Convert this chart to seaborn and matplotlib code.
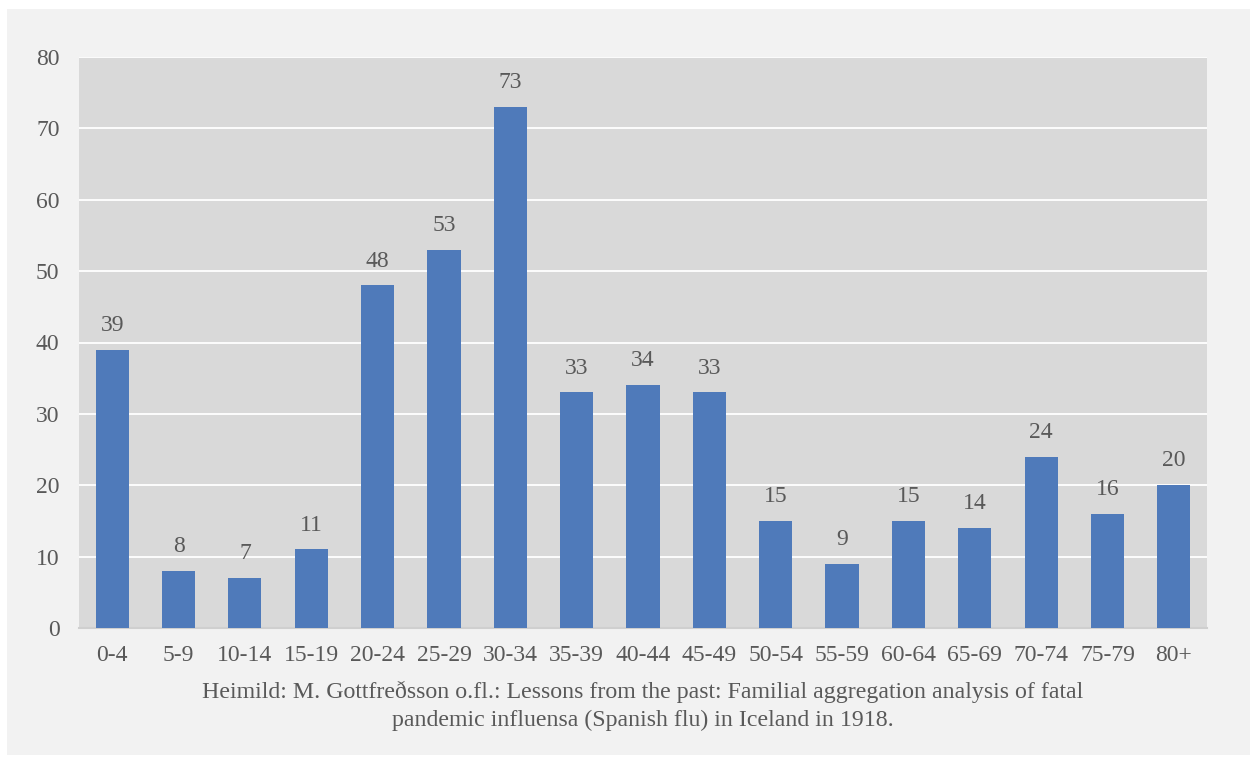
import matplotlib
matplotlib.use("Agg")
import matplotlib.pyplot as plt
import matplotlib.patches as mpatches
import seaborn as sns
import pandas as pd

age_groups = ["0-4", "5-9", "10-14", "15-19", "20-24", "25-29", "30-34", "35-39",
              "40-44", "45-49", "50-54", "55-59", "60-64", "65-69", "70-74", "75-79", "80+"]
deaths = [39, 8, 7, 11, 48, 53, 73, 33, 34, 33, 15, 9, 15, 14, 24, 16, 20]
y_ticks = [0, 10, 20, 30, 40, 50, 60, 70, 80]
caption = ("Heimild: M. Gottfreðsson o.fl.: Lessons from the past: Familial aggregation analysis of fatal\n"
           "pandemic influensa (Spanish flu) in Iceland in 1918.")

df = pd.DataFrame({"aldur": age_groups, "fjoldi": deaths})

sns.set_style("white")
plt.rcParams["font.family"] = ["Liberation Serif", "DejaVu Serif"]
text_color = "#595959"
fs = 17

fig = plt.figure(figsize=(12.53, 7.58), dpi=100, facecolor="white")
fig.patches.append(mpatches.Rectangle((7 / 1253, 3 / 758), 1243 / 1253, 746 / 758,
                                      transform=fig.transFigure, facecolor="#f2f2f2",
                                      edgecolor="none", zorder=-10))
ax = fig.add_axes([79 / 1253, 130 / 758, 1128 / 1253, 571 / 758])
ax.set_facecolor("#d9d9d9")

sns.barplot(data=df, x="aldur", y="fjoldi", color="#4f7aba", saturation=1,
            width=0.5, ax=ax, zorder=3, edgecolor="none", linewidth=0)

ax.set_ylim(0, 80)
ax.set_yticks(y_ticks)
ax.yaxis.grid(True, color="white", linewidth=1.3, zorder=0)
ax.set_axisbelow(True)
for s in ["top", "right", "left"]:
    ax.spines[s].set_visible(False)
ax.spines["bottom"].set_color("#cfcfcf")
ax.spines["bottom"].set_linewidth(1.5)
ax.set_xlim(-0.5, len(age_groups) - 0.5)

ax.tick_params(axis="both", length=0, labelsize=fs, labelcolor=text_color)
ax.tick_params(axis="y", pad=14)
ax.tick_params(axis="x", pad=12)
ax.set_xlabel("")
ax.set_ylabel("")

for cont in ax.containers:
    ax.bar_label(cont, fmt="%d", padding=10, fontsize=fs, color=text_color)

fig.text(643 / 1253, 1 - 706 / 758, caption, ha="center", va="center",
         fontsize=17.2, color=text_color, linespacing=1.38)

fig.savefig("out.png", dpi=100, facecolor=fig.get_facecolor())
